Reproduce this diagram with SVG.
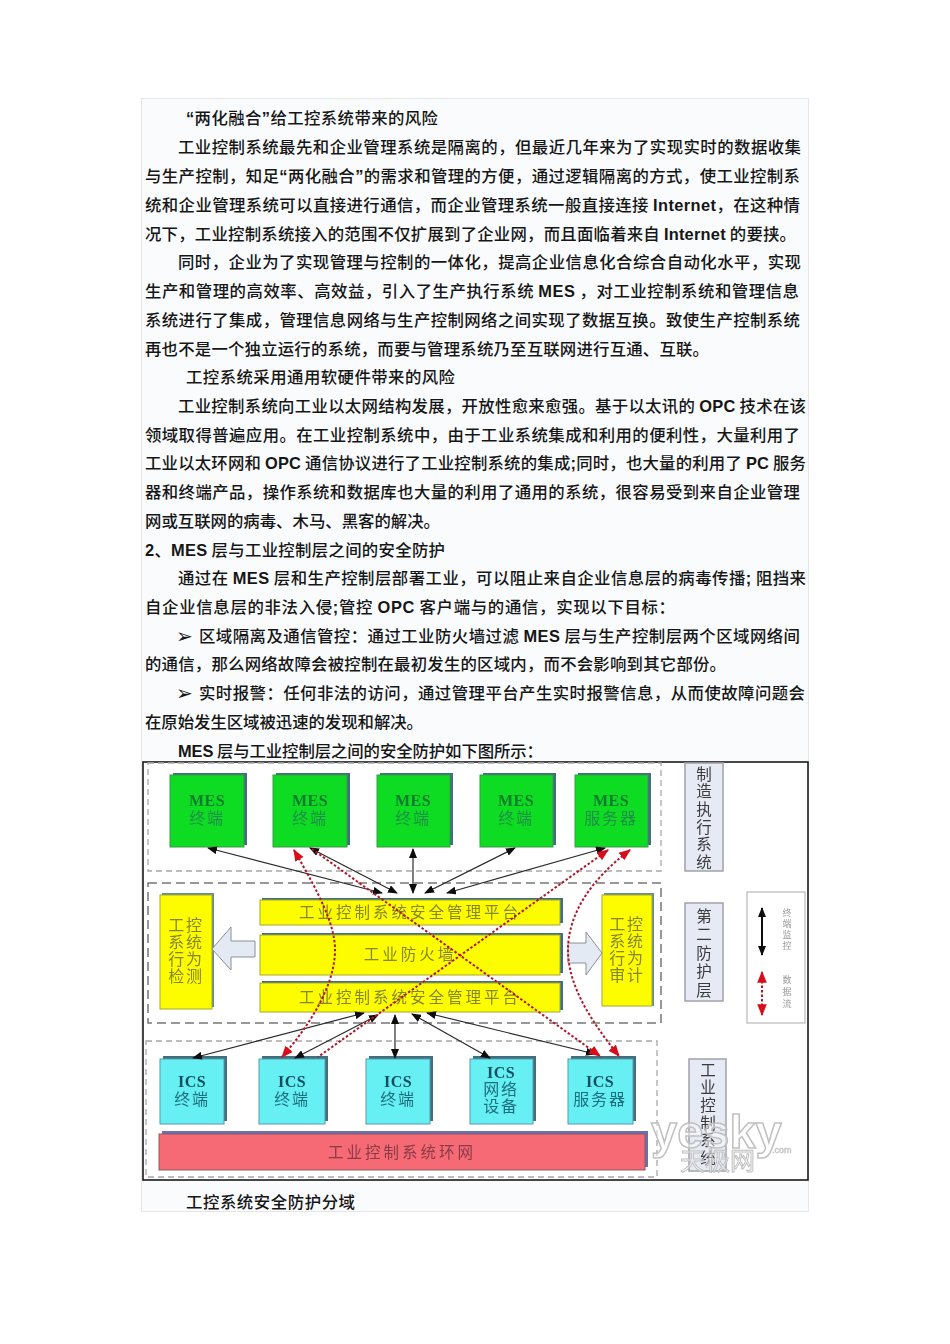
<svg xmlns="http://www.w3.org/2000/svg" width="950" height="1344" viewBox="0 0 950 1344">
<style>
.t{font-family:"Noto Sans CJK SC","Liberation Sans",sans-serif;font-size:16.4px;fill:#161616;font-weight:500}
.b{font-family:"Liberation Sans","Noto Sans CJK SC",sans-serif;font-weight:700}
.m{font-family:"DejaVu Sans",sans-serif;font-size:20px;font-weight:700;fill:#161616}
.n{font-family:"Liberation Serif","Noto Sans CJK SC",serif;text-anchor:middle;font-size:16px;letter-spacing:1.800px}
.g1{fill:#107a30;font-weight:700;letter-spacing:.5px}
.g2{fill:#1f8f48}
.c1{fill:#10505e;font-weight:700;letter-spacing:.5px}
.c2{fill:#1e6e7c}
.y{fill:#85852a}
.bar{font-size:15.500px;letter-spacing:3px}
.green{fill:#0bdc20;stroke:#3c9a48;stroke-width:1}
.cyan{fill:#66f0f4;stroke:#5a9aa8;stroke-width:1}
.yel{fill:#fdfd00;stroke:#a8a830;stroke-width:1}
.sh{fill:#3f6f80}
.side{fill:#e6eaf5;stroke:#a0a0a8;stroke-width:1.500}
.s{font-family:"Noto Sans CJK SC",sans-serif;font-size:15.500px;fill:#3a3a3a;writing-mode:vertical-rl;letter-spacing:2.200px}
.k{fill:none;stroke:#2a2a2a;stroke-width:1.200;marker-start:url(#ak);marker-end:url(#ak)}
.r{fill:none;stroke:#b01828;stroke-width:2;stroke-dasharray:2.500 2}
.dash{fill:none;stroke:#a8a8a8;stroke-width:1.300;stroke-dasharray:6 4}
.blk{fill:#e4eaf3;stroke:#8a9098;stroke-width:1}
</style>
<defs>
<marker id="ak" viewBox="0 0 10 8" refX="9" refY="4" markerWidth="10" markerHeight="8" markerUnits="userSpaceOnUse" orient="auto-start-reverse"><path d="M0 0L10 4L0 8Z" fill="#111"/></marker>
<marker id="ar" viewBox="0 0 10 8" refX="9" refY="4" markerWidth="12" markerHeight="10" markerUnits="userSpaceOnUse" orient="auto-start-reverse"><path d="M0 0L10 4L0 8Z" fill="#d8101e"/></marker>
<filter id="blur" x="-2%" y="-2%" width="104%" height="104%"><feGaussianBlur stdDeviation="0.55"/></filter>
</defs>
<rect width="950" height="1344" fill="#fff"/>
<rect x="141.500" y="98.500" width="667" height="1113" fill="#f9fbfd" stroke="#e6e6e6"/>
<g id="page-text">
<text class="t" x="186" y="124" textLength="252" lengthAdjust="spacing"><tspan class="b">“</tspan>两化融合<tspan class="b">”</tspan>给工控系统带来的风险</text>
<text class="t" x="178" y="153" textLength="623" lengthAdjust="spacing">工业控制系统最先和企业管理系统是隔离的，但最近几年来为了实现实时的数据收集</text>
<text class="t" x="145" y="182" textLength="655" lengthAdjust="spacing">与生产控制，知足<tspan class="b">“</tspan>两化融合<tspan class="b">”</tspan>的需求和管理的方便，通过逻辑隔离的方式，使工业控制系</text>
<text class="t" x="145" y="211" textLength="655" lengthAdjust="spacing">统和企业管理系统可以直接进行通信，而企业管理系统一般直接连接 <tspan class="b">Internet</tspan>，在这种情</text>
<text class="t" x="145" y="240" textLength="651" lengthAdjust="spacing">况下，工业控制系统接入的范围不仅扩展到了企业网，而且面临着来自 <tspan class="b">Internet</tspan> 的要挟。</text>
<text class="t" x="178" y="268" textLength="623" lengthAdjust="spacing">同时，企业为了实现管理与控制的一体化，提高企业信息化合综合自动化水平，实现</text>
<text class="t" x="145" y="297" textLength="654" lengthAdjust="spacing">生产和管理的高效率、高效益，引入了生产执行系统 <tspan class="b">MES</tspan> ，对工业控制系统和管理信息</text>
<text class="t" x="145" y="326" textLength="655" lengthAdjust="spacing">系统进行了集成，管理信息网络与生产控制网络之间实现了数据互换。致使生产控制系统</text>
<text class="t" x="145" y="355" textLength="564" lengthAdjust="spacing">再也不是一个独立运行的系统，而要与管理系统乃至互联网进行互通、互联。</text>
<text class="t" x="186" y="383" textLength="269" lengthAdjust="spacing">工控系统采用通用软硬件带来的风险</text>
<text class="t" x="178" y="412" textLength="628" lengthAdjust="spacing">工业控制系统向工业以太网结构发展，开放性愈来愈强。基于以太讯的 <tspan class="b">OPC</tspan> 技术在该</text>
<text class="t" x="145" y="441" textLength="655" lengthAdjust="spacing">领域取得普遍应用。在工业控制系统中，由于工业系统集成和利用的便利性，大量利用了</text>
<text class="t" x="145" y="469" textLength="661" lengthAdjust="spacing">工业以太环网和 <tspan class="b">OPC</tspan> 通信协议进行了工业控制系统的集成<tspan class="b">;</tspan>同时，也大量的利用了 <tspan class="b">PC</tspan> 服务</text>
<text class="t" x="145" y="498" textLength="655" lengthAdjust="spacing">器和终端产品，操作系统和数据库也大量的利用了通用的系统，很容易受到来自企业管理</text>
<text class="t" x="145" y="527" textLength="295" lengthAdjust="spacing">网或互联网的病毒、木马、黑客的解决。</text>
<text class="t" x="145" y="556" textLength="300" lengthAdjust="spacing"><tspan class="b">2</tspan>、<tspan class="b">MES</tspan> 层与工业控制层之间的安全防护</text>
<text class="t" x="178" y="584" textLength="628" lengthAdjust="spacing">通过在 <tspan class="b">MES</tspan> 层和生产控制层部署工业，可以阻止来自企业信息层的病毒传播<tspan class="b">;</tspan> 阻挡来</text>
<text class="t" x="145" y="613" textLength="530" lengthAdjust="spacing">自企业信息层的非法入侵<tspan class="b">;</tspan>管控 <tspan class="b">OPC</tspan> 客户端与的通信，实现以下目标：</text>
<text class="m" x="176" y="643">➢</text>
<text class="t" x="199" y="642" textLength="601" lengthAdjust="spacing">区域隔离及通信管控：通过工业防火墙过滤 <tspan class="b">MES</tspan> 层与生产控制层两个区域网络间</text>
<text class="t" x="145" y="670" textLength="581" lengthAdjust="spacing">的通信，那么网络故障会被控制在最初发生的区域内，而不会影响到其它部份。</text>
<text class="m" x="176" y="700">➢</text>
<text class="t" x="199" y="699" textLength="606" lengthAdjust="spacing">实时报警：任何非法的访问，通过管理平台产生实时报警信息，从而使故障问题会</text>
<text class="t" x="145" y="728" textLength="278" lengthAdjust="spacing">在原始发生区域被迅速的发现和解决。</text>
<text class="t" x="178" y="757" textLength="365" lengthAdjust="spacing"><tspan class="b">MES</tspan> 层与工业控制层之间的安全防护如下图所示：</text>
<text class="t" x="186" y="1208" textLength="169" lengthAdjust="spacing">工控系统安全防护分域</text>
</g>
<rect x="143" y="762" width="665" height="418" fill="#fff" stroke="#1a1a1a" stroke-width="1.600"/>
<g filter="url(#blur)">
<g id="zones">
<rect class="dash" x="148" y="763" width="513" height="108" stroke-dasharray="3 3"/>
<rect class="dash" x="148" y="883" width="513" height="140" style="stroke:#777;stroke-width:1.500;stroke-dasharray:9 5"/>
<rect class="dash" x="146" y="1041" width="511" height="136"/>
</g>
<g id="mes1"><rect class="sh" x="173" y="773" width="74" height="72"/><rect class="green" x="170" y="775" width="74" height="72"/><text class="n g1" x="207" y="806">MES</text><text class="n g2" x="207" y="824">终端</text></g>
<g id="mes2"><rect class="sh" x="276" y="773" width="74" height="72"/><rect class="green" x="273" y="775" width="74" height="72"/><text class="n g1" x="310" y="806">MES</text><text class="n g2" x="310" y="824">终端</text></g>
<g id="mes3"><rect class="sh" x="380" y="773" width="73" height="72"/><rect class="green" x="377" y="775" width="73" height="72"/><text class="n g1" x="413" y="806">MES</text><text class="n g2" x="413" y="824">终端</text></g>
<g id="mes4"><rect class="sh" x="483" y="773" width="73" height="72"/><rect class="green" x="480" y="775" width="73" height="72"/><text class="n g1" x="516" y="806">MES</text><text class="n g2" x="516" y="824">终端</text></g>
<g id="mes5"><rect class="sh" x="578" y="773" width="73" height="72"/><rect class="green" x="575" y="775" width="73" height="72"/><text class="n g1" x="611" y="806">MES</text><text class="n g2" x="611" y="824">服务器</text></g>
<g id="behavior-detect"><rect class="sh" x="162" y="893" width="52" height="114" fill-opacity=".8"/><rect class="yel" x="160" y="895" width="52" height="114"/><text class="n y"><tspan x="186" y="931">工控</tspan><tspan x="186" dy="17">系统</tspan><tspan x="186" dy="17">行为</tspan><tspan x="186" dy="17">检测</tspan></text></g>
<g id="audit"><rect class="sh" x="604" y="893" width="50" height="113" fill-opacity=".8"/><rect class="yel" x="602" y="895" width="50" height="111"/><text class="n y"><tspan x="627" y="930">工控</tspan><tspan x="627" dy="17">系统</tspan><tspan x="627" dy="17">行为</tspan><tspan x="627" dy="17">审计</tspan></text></g>
<g id="platform-top"><rect class="sh" x="262" y="898" width="301" height="25"/><rect class="yel" x="260" y="900" width="300" height="25"/><text class="n y bar" x="410" y="918">工业控制系统安全管理平台</text></g>
<g id="firewall"><rect class="sh" x="262" y="933" width="301" height="40"/><rect class="yel" x="260" y="935" width="300" height="40"/><text class="n y bar" x="410" y="960">工业防火墙</text></g>
<g id="platform-bottom"><rect class="sh" x="262" y="981" width="301" height="29"/><rect class="yel" x="260" y="983" width="300" height="29"/><text class="n y bar" x="410" y="1003">工业控制系统安全管理平台</text></g>
<g id="arrow-left"><path class="blk" d="M212 949L231 927V941H255V957H231V970Z"/></g>
<g id="arrow-right"><path class="blk" d="M602 953L586 932V943H568V963H586V975Z"/></g>
<g id="ics1"><rect class="sh" x="163" y="1056" width="64" height="65"/><rect class="cyan" x="160" y="1059" width="64" height="65"/><text class="n c1" x="192" y="1087">ICS</text><text class="n c2" x="192" y="1105">终端</text></g>
<g id="ics2"><rect class="sh" x="262" y="1056" width="66" height="65"/><rect class="cyan" x="259" y="1059" width="66" height="65"/><text class="n c1" x="292" y="1087">ICS</text><text class="n c2" x="292" y="1105">终端</text></g>
<g id="ics3"><rect class="sh" x="369" y="1056" width="64" height="65"/><rect class="cyan" x="366" y="1059" width="64" height="65"/><text class="n c1" x="398" y="1087">ICS</text><text class="n c2" x="398" y="1105">终端</text></g>
<g id="ics4"><rect class="sh" x="473" y="1056" width="63" height="65"/><rect class="cyan" x="470" y="1059" width="63" height="65"/><text class="n c2"><tspan class="c1" x="501" y="1078">ICS</tspan><tspan x="501" dy="17">网络</tspan><tspan x="501" dy="17">设备</tspan></text></g>
<g id="ics5"><rect class="sh" x="571" y="1056" width="65" height="65"/><rect class="cyan" x="568" y="1059" width="65" height="65"/><text class="n c1" x="600" y="1087">ICS</text><text class="n c2" x="600" y="1105">服务器</text></g>
<g id="ring"><rect x="162" y="1131" width="486" height="36" fill="#6a70b0"/><rect x="159" y="1134" width="486" height="36" fill="#f56a74" stroke="#8a5a60"/><text class="n bar" x="402" y="1158" fill="#8a3a48">工业控制系统环网</text></g>
<g id="label-mes"><rect class="side" x="685" y="763" width="38" height="108"/><text class="s" x="704" y="766">制造执行系统</text></g>
<g id="label-defense"><rect class="side" x="685" y="903" width="38" height="98"/><text class="s" x="704" y="908" style="letter-spacing:3px">第二防护层</text></g>
<g id="label-ics"><rect class="side" x="689" y="1059" width="37" height="112"/><text class="s" x="708" y="1062">工业控制系统</text></g>
<g id="legend"><rect x="747" y="892" width="58" height="131" fill="#fff" stroke="#aaa"/>
<path d="M762 908V955" stroke="#111" stroke-width="2" fill="none" marker-start="url(#ak)" marker-end="url(#ak)"/>
<path class="r" d="M762 972V1015" marker-start="url(#ar)" marker-end="url(#ar)"/>
<text class="s" x="787" y="908" style="font-size:9px;letter-spacing:2px;fill:#9a9a9a">终端监控</text>
<text class="s" x="787" y="975" style="font-size:9px;letter-spacing:3px;fill:#9a9a9a">数据流</text></g>
<g id="connectors">
<path class="k" d="M208 848L382 893"/><path class="k" d="M310 848L397 893"/><path class="k" d="M413 849V893"/><path class="k" d="M515 848L425 893"/><path class="k" d="M605 848L447 893"/>
<path class="k" d="M193 1058L364 1013"/><path class="k" d="M295 1058L378 1015"/><path class="k" d="M395 1058V1015"/><path class="k" d="M490 1058L412 1014"/><path class="k" d="M595 1054L427 1013"/>
<path class="r" d="M294 850C320 895 335 925 335 950C335 985 310 1025 282 1057" marker-start="url(#ar)" marker-end="url(#ar)"/>
<path class="r" d="M312 849L600 1056" marker-end="url(#ar)"/>
<path class="r" d="M608 850L318 1057" marker-start="url(#ar)"/>
<path class="r" d="M630 850C590 880 568 915 568 950C568 985 590 1020 619 1056" marker-start="url(#ar)" marker-end="url(#ar)"/>
</g>
<g id="watermark" font-family="Liberation Sans, sans-serif" fill="#fff" fill-opacity=".45" stroke="#c0c0c0" stroke-width="1.500">
<text x="651" y="1148" font-size="47" font-weight="700">yesky</text>
<text x="772" y="1153" font-size="9" stroke-width=".6">.com</text>
<text x="680" y="1170" font-size="25" font-family="Noto Sans CJK SC, sans-serif" stroke-width="1">天极网</text>
</g>
</g>
</svg>
